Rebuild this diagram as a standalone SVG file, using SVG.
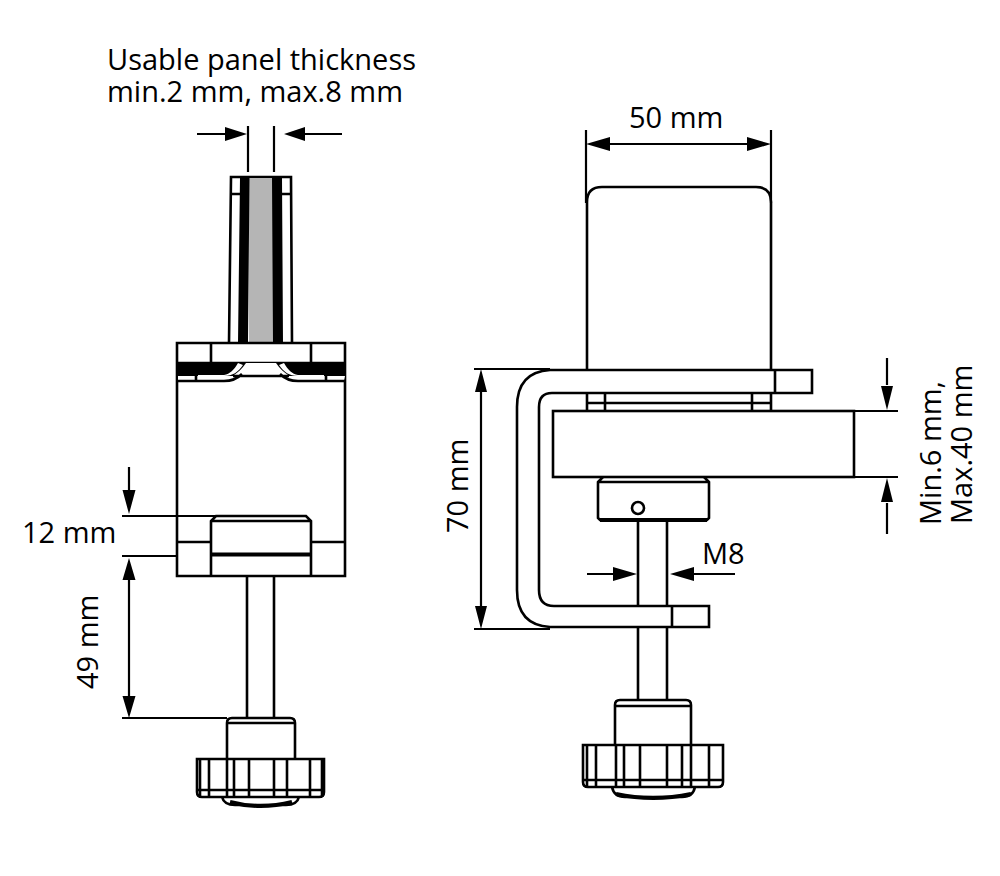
<svg xmlns="http://www.w3.org/2000/svg" width="1000" height="876" viewBox="0 0 1000 876">
<style>
.l{fill:none;stroke:#000;stroke-width:2.6}
.t{fill:none;stroke:#000;stroke-width:1.8}
.b{fill:none;stroke:#000;stroke-width:4}
.d{fill:none;stroke:#000;stroke-width:2.2}
.w{fill:#fff;stroke:#000;stroke-width:2.6}
.a{fill:#000}
text{font-family:"Open Sans","Noto Sans",sans-serif;font-size:29px;fill:#000}
</style>
<rect width="1000" height="876" fill="#fff"/>
<g id="front-view">
<path class="l" d="M229 343L231 177H291L292 343M231 194H240M282 194H291"/>
<rect x="249" y="178" width="24" height="165" fill="#b5b5b5"/>
<path class="a" d="M240 177H249.500L248 343H238ZM272 177H282L283 343H273Z"/>
<path class="l" d="M177 576V343H345V576ZM177 363H345M211 343V363M311 343V363"/>
<rect x="177" y="363" width="168" height="13" fill="#000"/>
<path d="M178 376H195V381H178ZM198 376H224C233 376 238 372 243 365L238 363C234 370 230 374 224 375H198ZM345 376H327V381H344ZM324 376H298C289 376 284 372 279 365L284 363C288 370 292 374 298 375H324Z" fill="#fff"/>
<path d="M246 363H276C280 369 284 372 288 375H234C238 372 242 369 246 363Z" fill="#fff"/>
<path class="l" d="M177 381H224C233 381 238 378 242 374M345 381H298C289 381 284 378 280 374M196 376V381M326 376V381M233 376H289"/>
<path class="l" d="M211 576V521L216 516H306L311 521V576M211 521H311M177 542H211M311 542H345"/>
<path class="b" d="M211 554.500H311"/>
<path class="l" d="M247 576V718M274 576V718"/>
<path class="l" d="M227 760V723Q227 718 232 718H290Q295 718 295 723V760M227 723H295"/>
<path class="l" d="M197 759H324V792Q324 797 319 797H202Q197 797 197 792ZM197 790H324M222 797Q224 805 235 805H286Q297 805 299 797"/>
<path class="l" d="M200 759V797M209 759V797M227 759V797M234 759V797M249 759V797M274 759V797M287 759V797M310 759V797M322 759V797"/>
<path class="b" d="M230 802Q260 810 292 802"/>
</g>
<g id="side-view">
<path class="l" d="M587 370V202Q587 187 602 187H756Q771 187 771 202V370"/>
<path class="l" d="M550 370H812V393H552Q539 393 539 407V590Q539 606 554 606H709V627H550Q517 625 517 590V407Q517 372 550 370ZM775 370V393M672 606V627"/>
<path class="l" d="M587 393V411M605 393V411M752 393V411M771 393V411M587 403H771"/>
<rect class="l" x="553" y="411" width="301" height="66"/>
<path class="l" d="M603 477L598 482V518L600 520H707L709 518V482L704 477M598 482H709"/>
<path class="b" d="M600 520H707"/>
<circle class="l" cx="638" cy="508" r="6"/>
<path class="l" d="M638 521V606M667 521V606M638 627V700M667 627V700"/>
<path class="l" d="M615 745V705Q615 700 620 700H686Q691 700 691 705V745M615 706H691"/>
<path class="l" d="M583 745H723V782Q723 787 718 787H588Q583 787 583 782ZM583 780H723M612 787Q614 797 625 797H682Q693 797 695 787"/>
<path class="l" d="M587 745V787M596 745V787M616 745V787M624 745V787M640 745V787M667 745V787M682 745V787M691 745V787M709 745V787"/>
<path class="b" d="M616 794Q653 802 691 794"/>
</g>
<g id="connectors">
<path class="d" d="M197 134H227M303 134H342M248 126V172M274 126V172"/>
<path class="a" d="M247 134L225 127V141ZM284 134L305 127V141Z"/>
<path class="d" d="M122 516H215M122 556H177M129 467V492M129 580V712M122 718H227"/>
<path class="a" d="M129 514L122.500 490H135.500ZM129 558L122.500 580H135.500ZM129 718L122.500 696H135.500Z"/>
<path class="d" d="M586 130V203M771 130V203M606 144H752"/>
<path class="a" d="M586 144L610 137V151ZM771 144L747 137V151Z"/>
<path class="d" d="M474 369H550M474 629H550M481 390V610"/>
<path class="a" d="M481 369L475 392H487ZM481 629L475 606H487Z"/>
<path class="d" d="M854 411H898M854 477H898M887 358V385M887 503V534"/>
<path class="a" d="M887 410L881 386H893ZM887 478L881 502H893Z"/>
<path class="d" d="M587 574H615M691 574H735"/>
<path class="a" d="M637 574L613 567V581ZM670 574L694 567V581Z"/>
</g>
<g id="labels">
<text x="107" y="70">Usable panel thickness</text>
<text x="107" y="102">min.2 mm, max.8 mm</text>
<text x="629" y="128">50 mm</text>
<text x="22" y="543">12 mm</text>
<text x="702" y="564">M8</text>
<text transform="translate(98 689) rotate(-90)">49 mm</text>
<text transform="translate(468 533) rotate(-90)">70 mm</text>
<text transform="translate(941 525) rotate(-90)">Min.6 mm,</text>
<text transform="translate(972 524) rotate(-90)">Max.40 mm</text>
</g>
</svg>
